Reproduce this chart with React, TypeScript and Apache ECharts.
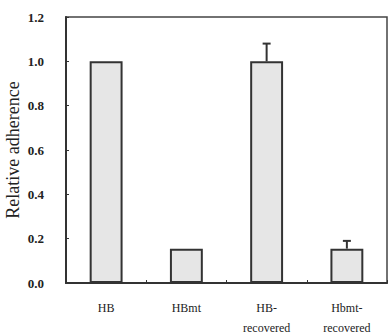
import React, { useEffect, useRef } from "react";
import * as echarts from "echarts";

const categories = ["HB", "HBmt", "HB-\nrecovered", "Hbmt-\nrecovered"];
const values = [1.0, 0.155, 1.0, 0.155];
const errors = [0, 0, 0.08, 0.035];
const yTicks = [0, 0.2, 0.4, 0.6, 0.8, 1.0, 1.2];

export default function App() {
  const ref = useRef<HTMLDivElement>(null);
  useEffect(() => {
    if (!ref.current) return;
    const chart = echarts.init(ref.current, null, { renderer: "svg" });
    const font = "Liberation Serif";
    chart.setOption({
      animation: false,
      backgroundColor: "#fff",
      textStyle: { fontFamily: font },
      grid: {
        left: 66,
        top: 17,
        right: 1,
        bottom: 53,
        outerBoundsMode: "none",
        containLabel: false,
        show: true,
        borderColor: "#444",
        borderWidth: 1.5,
      },
      xAxis: [
        {
          type: "category",
          data: categories,
          axisLine: { lineStyle: { color: "#333", width: 2 } },
          axisTick: { show: false },
          axisLabel: {
            color: "#222",
            fontFamily: font,
            fontSize: 12,
            margin: 15,
            lineHeight: 20,
            interval: 0,
          },
        },
        {
          type: "value",
          min: 0,
          max: 8,
          interval: 1,
          position: "bottom",
          axisLine: { show: false },
          axisTick: { show: true, inside: true, length: 3, lineStyle: { color: "#333", width: 1 } },
          axisLabel: { show: false },
          splitLine: { show: false },
        },
      ],
      yAxis: {
        type: "value",
        min: yTicks[0],
        max: yTicks[yTicks.length - 1],
        interval: 0.2,
        name: "Relative adherence",
        nameLocation: "middle",
        nameGap: 44,
        nameMoveOverlap: false,
        nameTextStyle: { color: "#222", fontFamily: font, fontSize: 18 },
        axisLine: { show: true, lineStyle: { color: "#333", width: 2 } },
        axisTick: { show: true, inside: true, length: 3, lineStyle: { color: "#333" } },
        splitLine: { show: false },
        axisLabel: {
          color: "#222",
          fontFamily: font,
          fontSize: 13,
          fontWeight: "bold",
          margin: 22,
          formatter: (v: number) => v.toFixed(1),
        },
      },
      series: [
        {
          type: "bar",
          data: values,
          barWidth: "41%",
          itemStyle: { color: "#e6e6e6", borderColor: "#333", borderWidth: 2 },
          z: 2,
        },
        {
          type: "custom",
          data: values.map((v, i) => [i, v, errors[i]]),
          z: 3,
          renderItem: (params: any, api: any) => {
            const i = api.value(0);
            const v = api.value(1);
            const e = api.value(2);
            if (!e) return null;
            const p0 = api.coord([i, v]);
            const p1 = api.coord([i, v + e]);
            const style = { stroke: "#333", lineWidth: 2 };
            return {
              type: "group",
              children: [
                { type: "line", shape: { x1: p0[0], y1: p0[1], x2: p1[0], y2: p1[1] }, style },
                { type: "line", shape: { x1: p1[0] - 4, y1: p1[1], x2: p1[0] + 4, y2: p1[1] }, style },
              ],
            };
          },
        },
      ],
    });
    return () => chart.dispose();
  }, []);
  return (
    <div
      ref={ref}
      style={{ position: "fixed", left: 0, top: 0, width: 388, height: 336 }}
    />
  );
}
